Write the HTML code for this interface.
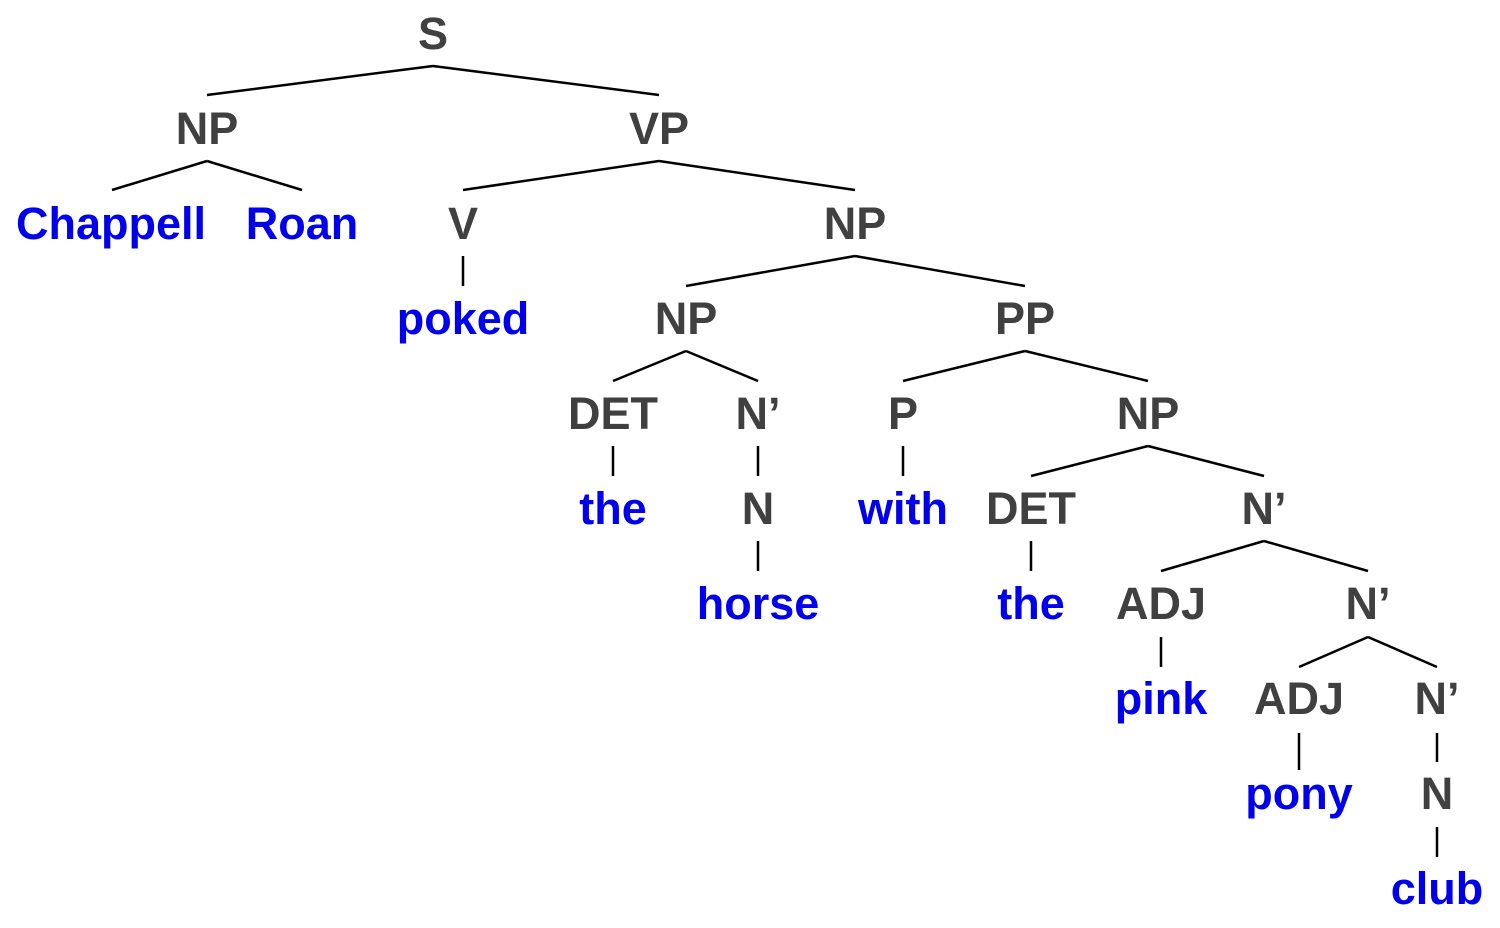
<!DOCTYPE html>
<html><head><meta charset="utf-8"><style>
html,body{margin:0;padding:0;background:#fff;}
svg text{font-family:"Liberation Sans",Arial,sans-serif;font-weight:bold;font-size:45px;text-anchor:middle;}
.g{fill:#404040}.b{fill:#0000ee}
line{stroke:#000;stroke-width:2.5}
</style></head><body>
<svg width="1500" height="923" viewBox="0 0 1500 923" xmlns="http://www.w3.org/2000/svg">
<g transform="translate(0,-2)">
<text class="g" x="433" y="51">S</text>
<text class="g" x="207" y="146">NP</text>
<text class="g" x="659" y="146">VP</text>
<text class="b" x="111" y="241">Chappell</text>
<text class="b" x="302" y="241">Roan</text>
<text class="g" x="463" y="241">V</text>
<text class="g" x="855" y="241">NP</text>
<text class="b" x="463" y="336">poked</text>
<text class="g" x="686" y="336">NP</text>
<text class="g" x="1025" y="336">PP</text>
<text class="g" x="613" y="431">DET</text>
<text class="g" x="758" y="431">N’</text>
<text class="g" x="903" y="431">P</text>
<text class="g" x="1148" y="431">NP</text>
<text class="b" x="613" y="526">the</text>
<text class="g" x="758" y="526">N</text>
<text class="b" x="903" y="526">with</text>
<text class="g" x="1031" y="526">DET</text>
<text class="g" x="1264" y="526">N’</text>
<text class="b" x="758" y="621">horse</text>
<text class="b" x="1031" y="621">the</text>
<text class="g" x="1161" y="621">ADJ</text>
<text class="g" x="1368" y="621">N’</text>
<text class="b" x="1161" y="716">pink</text>
<text class="g" x="1299" y="716">ADJ</text>
<text class="g" x="1437" y="716">N’</text>
<text class="b" x="1299" y="811">pony</text>
<text class="g" x="1437" y="811">N</text>
<text class="b" x="1437" y="906">club</text>
</g>
<g>
<line x1="433" y1="66" x2="207" y2="95"/><line x1="433" y1="66" x2="659" y2="95"/>
<line x1="207" y1="161" x2="112" y2="190"/><line x1="207" y1="161" x2="302" y2="190"/>
<line x1="659" y1="161" x2="463" y2="190"/><line x1="659" y1="161" x2="855" y2="190"/>
<line x1="463" y1="256" x2="463" y2="286"/>
<line x1="855" y1="256" x2="686" y2="286"/><line x1="855" y1="256" x2="1025" y2="286"/>
<line x1="686" y1="351" x2="613" y2="381"/><line x1="686" y1="351" x2="758" y2="381"/>
<line x1="1025" y1="351" x2="903" y2="381"/><line x1="1025" y1="351" x2="1148" y2="381"/>
<line x1="613" y1="446" x2="613" y2="476"/>
<line x1="758" y1="446" x2="758" y2="476"/>
<line x1="903" y1="446" x2="903" y2="476"/>
<line x1="1148" y1="446" x2="1031" y2="476"/><line x1="1148" y1="446" x2="1264" y2="476"/>
<line x1="758" y1="541" x2="758" y2="571"/>
<line x1="1031" y1="541" x2="1031" y2="571"/>
<line x1="1264" y1="541" x2="1161" y2="571"/><line x1="1264" y1="541" x2="1368" y2="571"/>
<line x1="1161" y1="637" x2="1161" y2="667"/>
<line x1="1368" y1="637" x2="1299" y2="667"/><line x1="1368" y1="637" x2="1437" y2="667"/>
<line x1="1299" y1="733" x2="1299" y2="770"/>
<line x1="1437" y1="733" x2="1437" y2="762"/>
<line x1="1437" y1="827" x2="1437" y2="857"/>
</g>
</svg>
</body></html>
